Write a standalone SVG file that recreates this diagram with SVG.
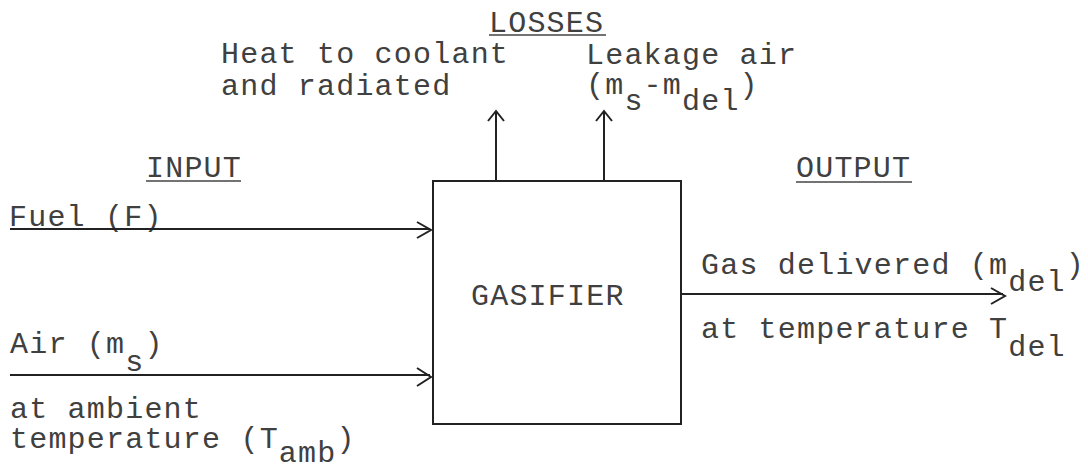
<svg xmlns="http://www.w3.org/2000/svg" width="1088" height="466" viewBox="0 0 1088 466">
<style>
text{font-family:"Liberation Mono","DejaVu Sans Mono",monospace;font-size:30px;letter-spacing:1.2px;fill:#404040}
.ln{stroke:#222;stroke-width:2;fill:none}
.ul{stroke:#444;stroke-width:1.6}
.hd{stroke:#222;stroke-width:2;fill:none;stroke-linejoin:miter}
</style>
<rect width="1088" height="466" fill="#fff"/>
<g id="losses">
<text x="489" y="32">LOSSES</text>
<line class="ul" x1="489" y1="35" x2="606" y2="35"/>
<text x="221" y="63">Heat to coolant</text>
<text x="221" y="95">and radiated</text>
<text x="586" y="64">Leakage air</text>
<text><tspan x="586" y="94">(m</tspan><tspan x="624.4" y="110">s</tspan><tspan x="643.6" y="94">-m</tspan><tspan x="682" y="110">del</tspan><tspan x="739.6" y="94">)</tspan></text>
</g>
<g id="input">
<text x="146" y="177">INPUT</text>
<line class="ul" x1="146" y1="181" x2="241" y2="181"/>
<text x="9" y="226">Fuel (F)</text>
<text><tspan x="10" y="353">Air (m</tspan><tspan x="125.2" y="371">s</tspan><tspan x="144.4" y="353">)</tspan></text>
<text x="10" y="418">at ambient</text>
<text><tspan x="10" y="448">temperature (T</tspan><tspan x="278.8" y="462">amb</tspan><tspan x="336.4" y="448">)</tspan></text>
</g>
<g id="gasifier">
<rect class="ln" x="433" y="181" width="248" height="243"/>
<text x="471" y="305">GASIFIER</text>
</g>
<g id="output">
<text x="796" y="177">OUTPUT</text>
<line class="ul" x1="796" y1="182" x2="912" y2="182"/>
<text><tspan x="701" y="274">Gas delivered (m</tspan><tspan x="1008.2" y="291">del</tspan><tspan x="1065.8" y="274">)</tspan></text>
<text><tspan x="701" y="338">at temperature T</tspan><tspan x="1008.2" y="356">del</tspan></text>
</g>
<g id="connectors">
<line class="ln" x1="10" y1="229" x2="430" y2="229"/>
<polyline class="hd" points="417,222 431,230 417,238"/>
<line class="ln" x1="10" y1="375" x2="430" y2="375"/>
<polyline class="hd" points="417,368 431,377 417,386"/>
<line class="ln" x1="496" y1="181" x2="496" y2="112"/>
<polyline class="hd" points="488,121 496,111 504,121"/>
<line class="ln" x1="604" y1="181" x2="604" y2="112"/>
<polyline class="hd" points="596,121 604,111 612,121"/>
<line class="ln" x1="681" y1="294" x2="1003" y2="294"/>
<polyline class="hd" points="991,288 1005,296 991,304"/>
</g>
</svg>
